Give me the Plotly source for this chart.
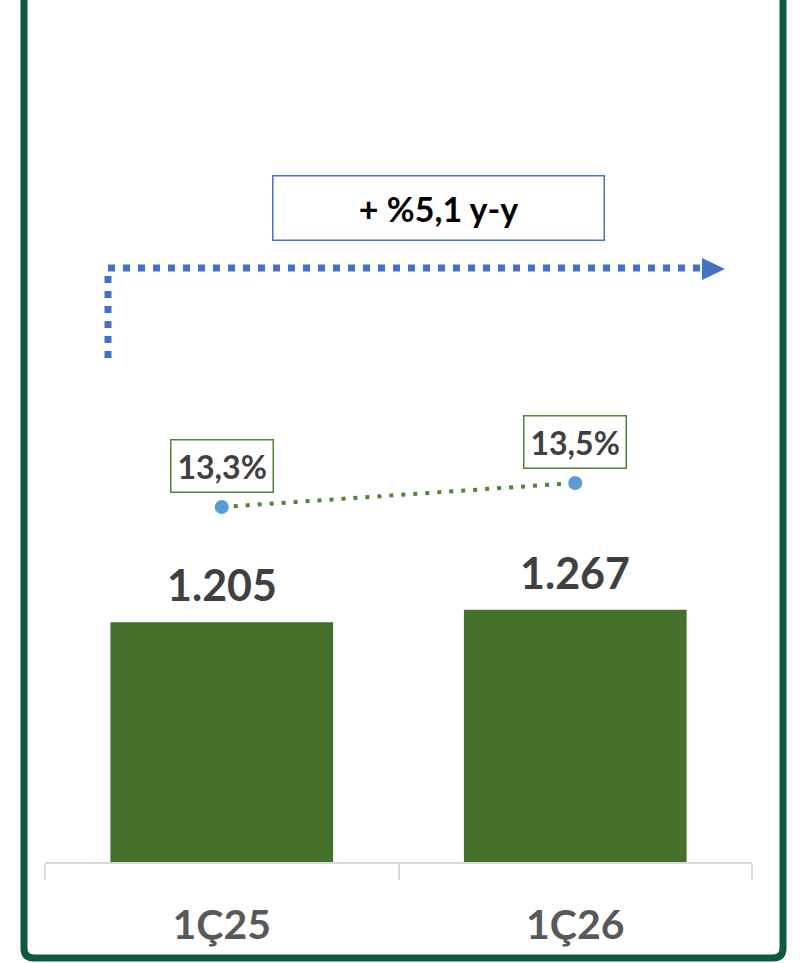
import plotly.graph_objects as go

# --------------------------------------------------
# VERI
# --------------------------------------------------
donemler = ["1Ç25", "1Ç26"]
degerler = [1205, 1267]
deger_etiket = ["1.205", "1.267"]
oranlar = [0.133, 0.135]
oran_etiket = ["13,3%", "13,5%"]
buyume_etiket = "+ %5,1 y-y"

W, H = 807, 963
M_L, M_R, M_T, M_B = 45, 55, 20, 101

FONT = "Lato"
KOYU_GRI = "#404040"
YESIL = "#548235"
MAVI = "#4472C4"


def px(x):
    return (x - M_L) / (W - M_L - M_R)


def py(y):
    return (H - M_B - y) / (H - M_T - M_B)


fig = go.Figure()

fig.add_trace(go.Bar(
    x=donemler,
    y=degerler,
    width=0.63,
    marker=dict(color="#44702A", line=dict(width=0)),
    hoverinfo="skip",
))

fig.add_trace(go.Scatter(
    x=donemler,
    y=oranlar,
    yaxis="y2",
    mode="lines+markers",
    line=dict(color=YESIL, width=4, dash="4px,8px"),
    marker=dict(size=14, color="#5B9BD5"),
    hoverinfo="skip",
))

annotations = []
for d, v, t in zip(donemler, degerler, deger_etiket):
    annotations.append(dict(
        x=d, y=v, xref="x", yref="y", text=f"<b>{t}</b>", showarrow=False,
        yanchor="bottom", yshift=10,
        font=dict(family=FONT, size=43, color=KOYU_GRI),
    ))

for d, o, t in zip(donemler, oranlar, oran_etiket):
    annotations.append(dict(
        x=d, y=o, xref="x", yref="y2", text=f"<b>{t}</b>", showarrow=False,
        yanchor="bottom", yshift=14,
        bordercolor=YESIL, borderwidth=1.5, borderpad=6, bgcolor="white",
        font=dict(family=FONT, size=32, color=KOYU_GRI),
    ))

# buyume kutusu
annotations.append(dict(
    x=px(438), y=py(208), xref="paper", yref="paper",
    text=f"<b>{buyume_etiket}</b>", showarrow=False,
    xanchor="center", yanchor="middle",
    width=328, height=61,
    bordercolor=MAVI, borderwidth=1.5, bgcolor="white",
    font=dict(family=FONT, size=34, color="black"),
))

shapes = [
    # noktali ok
    dict(
        type="path", xref="paper", yref="paper",
        path=f"M {px(108)},{py(358)} L {px(108)},{py(268)} L {px(703)},{py(268)}",
        line=dict(color=MAVI, width=7, dash="7px,8px"),
    ),
    dict(
        type="path", xref="paper", yref="paper",
        path=f"M {px(702)},{py(258)} L {px(725)},{py(269)} L {px(702)},{py(280)} Z",
        line=dict(width=0), fillcolor=MAVI,
    ),
    # cerceve
    dict(
        type="path", xref="paper", yref="paper",
        path=(f"M {px(24)},{py(-20)} L {px(24)},{py(948)} "
              f"Q {px(24)},{py(958)} {px(34)},{py(958)} "
              f"L {px(773)},{py(958)} Q {px(783)},{py(958)} {px(783)},{py(948)} "
              f"L {px(783)},{py(-20)}"),
        line=dict(color="#0E5A3E", width=7),
    ),
]

fig.update_layout(
    width=W,
    height=H,
    margin=dict(l=M_L, r=M_R, t=M_T, b=M_B),
    paper_bgcolor="white",
    plot_bgcolor="white",
    showlegend=False,
    annotations=annotations,
    shapes=shapes,
    xaxis=dict(
        type="category",
        range=[-0.5, 1.5],
        showline=True, linecolor="#D9D9D9", linewidth=2,
        ticks="outside", tickson="boundaries", ticklen=16,
        tickcolor="#D9D9D9", tickwidth=2,
        ticklabelstandoff=26,
        showgrid=False,
        tickfont=dict(family=FONT, size=41, color="#595959", weight="bold"),
    ),
    yaxis=dict(range=[0, 4231], visible=False, showgrid=False),
    yaxis2=dict(range=[0.10342, 0.17358], overlaying="y", visible=False, showgrid=False),
)

# sayfa kenar boslugunu kaldir, grafik pencerenin koseye otursun
fig.write_html(
    "out.html",
    config={"displayModeBar": False},
    post_script="document.body.style.margin='0';",
)
